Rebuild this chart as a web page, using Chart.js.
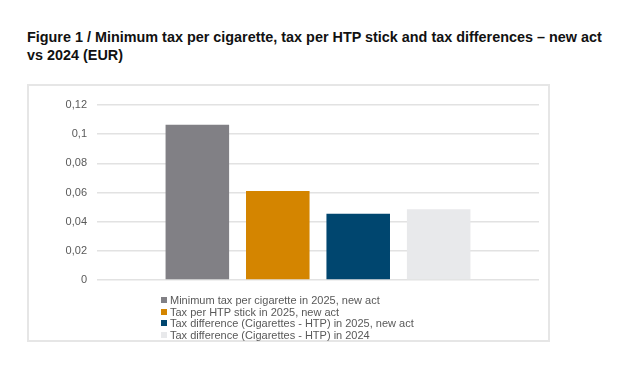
<!DOCTYPE html>
<html>
<head>
<meta charset="utf-8">
<script src="https://cdn.jsdelivr.net/npm/chart.js@4.4.1/dist/chart.umd.min.js"></script>
<style>
  html, body { margin: 0; padding: 0; background: #fff; }
  body { width: 620px; height: 365px; position: relative; overflow: hidden; font-family: "Liberation Sans", Arial, sans-serif; }
  #title { position: absolute; left: 27px; top: 28px; width: 593px; font-size: 14.4px; font-weight: bold; line-height: 18px; color: #111; white-space: nowrap; }
  #frame { position: absolute; left: 27px; top: 84px; width: 519px; height: 254px; border: 2px solid #e6e6e6; }
  #chartWrap { position: absolute; left: 0; top: 0; width: 620px; height: 365px; }
  #legend { position: absolute; left: 161px; top: 295px; font-size: 11px; line-height: 11.6px; color: #595959; }
  #legend div { white-space: nowrap; }
  #legend span { display: inline-block; width: 6px; height: 6px; margin-right: 3px; vertical-align: 1px; }
</style>
</head>
<body>
<div id="title">Figure 1 / Minimum tax per cigarette, tax per HTP stick and tax differences – new act<br>vs 2024 (EUR)</div>
<div id="frame"></div>
<div id="chartWrap"><canvas id="chart" width="620" height="365"></canvas></div>
<div id="legend"></div>
<script>
const categories = [''];
const seriesNames = [
    'Minimum tax per cigarette in 2025, new act',
    'Tax per HTP stick in 2025, new act',
    'Tax difference (Cigarettes - HTP) in 2025, new act',
    'Tax difference (Cigarettes - HTP) in 2024'
];
const seriesValues = [0.1065, 0.061, 0.0455, 0.0485];
const seriesColors = ['#818085', '#d48500', '#00466f', '#e8e9eb'];
const yTickLabels = ['0', '0,02', '0,04', '0,06', '0,08', '0,1', '0,12'];

const datasets = seriesNames.map(function(name, i) {
    return {
        label: name,
        data: [seriesValues[i]],
        backgroundColor: seriesColors[i],
        categoryPercentage: 0.728,
        barPercentage: 0.79
    };
});

const chart = new Chart(document.getElementById('chart'), {
    type: 'bar',
    data: { labels: categories, datasets: datasets },
    options: {
        responsive: false,
        animation: false,
        layout: { padding: { left: 40, right: 81, top: 105, bottom: 85 } },
        plugins: { legend: { display: false }, tooltip: { enabled: false } },
        scales: {
            x: { display: false },
            y: {
                min: 0,
                max: 0.12,
                afterFit: function(scale) { scale.width = 57; },
                border: { display: false },
                grid: { color: '#e2e2e2', lineWidth: 1.5, drawTicks: false },
                ticks: {
                    stepSize: 0.02,
                    padding: 10,
                    color: '#595959',
                    font: { family: 'Liberation Sans', size: 11 },
                    callback: function(value, index) { return yTickLabels[index]; }
                }
            }
        }
    }
});

// legend as a single column, like the original
const legendBox = document.getElementById('legend');
chart.data.datasets.forEach(function(ds) {
    const row = document.createElement('div');
    row.innerHTML = '<span style="background:' + ds.backgroundColor + '"></span>' + ds.label;
    legendBox.appendChild(row);
});
</script>
</body>
</html>
